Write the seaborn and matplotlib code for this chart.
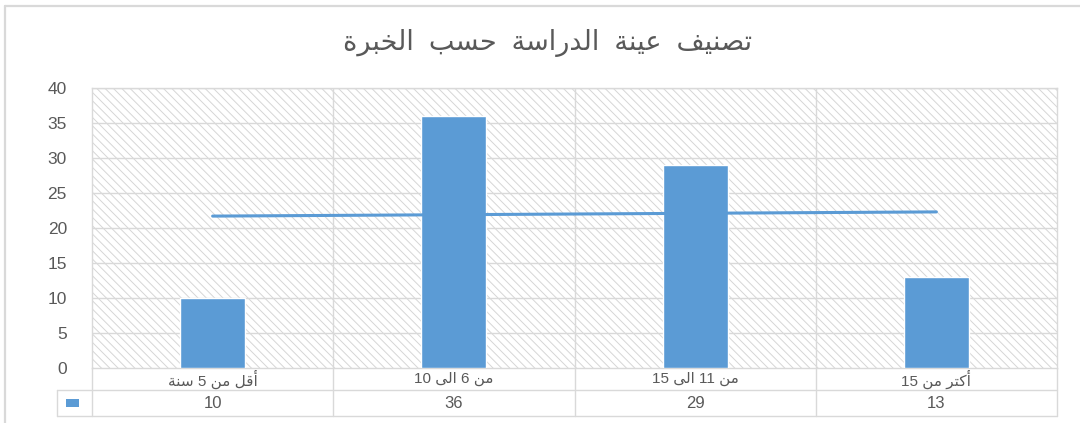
import numpy as np
import pandas as pd
import matplotlib
matplotlib.use("Agg")
import matplotlib.pyplot as plt
from matplotlib.patches import Rectangle
from matplotlib.lines import Line2D
import matplotlib.transforms as mtransforms
import seaborn as sns

# ---------------- data ----------------
title = "تصنيف عينة الدراسة حسب الخبرة"
categories = ["أقل من 5 سنة", "من 6 الى 10", "من 11 الى 15", "أكتر من 15"]
values = [10, 36, 29, 13]
y_ticks = [0, 5, 10, 15, 20, 25, 30, 35, 40]

# ------------- minimal Arabic shaping (presentation forms) + RTL order -------------
FORMS = {
    'ا': ('\uFE8D', '\uFE8E', None, None),
    'أ': ('\uFE83', '\uFE84', None, None),
    'ب': ('\uFE8F', '\uFE90', '\uFE91', '\uFE92'),
    'ة': ('\uFE93', '\uFE94', None, None),
    'ت': ('\uFE95', '\uFE96', '\uFE97', '\uFE98'),
    'ح': ('\uFEA1', '\uFEA2', '\uFEA3', '\uFEA4'),
    'خ': ('\uFEA5', '\uFEA6', '\uFEA7', '\uFEA8'),
    'د': ('\uFEA9', '\uFEAA', None, None),
    'ر': ('\uFEAD', '\uFEAE', None, None),
    'س': ('\uFEB1', '\uFEB2', '\uFEB3', '\uFEB4'),
    'ص': ('\uFEB9', '\uFEBA', '\uFEBB', '\uFEBC'),
    'ع': ('\uFEC9', '\uFECA', '\uFECB', '\uFECC'),
    'ف': ('\uFED1', '\uFED2', '\uFED3', '\uFED4'),
    'ق': ('\uFED5', '\uFED6', '\uFED7', '\uFED8'),
    'ك': ('\uFED9', '\uFEDA', '\uFEDB', '\uFEDC'),
    'ل': ('\uFEDD', '\uFEDE', '\uFEDF', '\uFEE0'),
    'م': ('\uFEE1', '\uFEE2', '\uFEE3', '\uFEE4'),
    'ن': ('\uFEE5', '\uFEE6', '\uFEE7', '\uFEE8'),
    'ى': ('\uFEEF', '\uFEF0', None, None),
    'ي': ('\uFEF1', '\uFEF2', '\uFEF3', '\uFEF4'),
}
LAM_ALEF = {'ا': ('\uFEFB', '\uFEFC'), 'أ': ('\uFEF7', '\uFEF8')}


def _dual(c):
    return c in FORMS and FORMS[c][2] is not None


def shape_word(w):
    chars = list(w)
    n = len(chars)
    out = []
    i = 0
    while i < n:
        c = chars[i]
        if c not in FORMS:
            out.append(c)
            i += 1
            continue
        jp = i > 0 and _dual(chars[i - 1])
        if c == 'ل' and i + 1 < n and chars[i + 1] in LAM_ALEF:
            iso, fin = LAM_ALEF[chars[i + 1]]
            out.append(fin if jp else iso)
            i += 2
            continue
        jn = _dual(c) and i + 1 < n and chars[i + 1] in FORMS
        iso, fin, ini, med = FORMS[c]
        out.append(med if (jp and jn) else fin if jp else ini if jn else iso)
        i += 1
    return ''.join(reversed(out))


def visual(text, sep=' '):
    words = [shape_word(w) if any(ch in FORMS for ch in w) else w
             for w in text.split(' ')]
    return sep.join(reversed(words))


# ---------------- style ----------------
sns.set_theme(style="white")
plt.rcParams['font.family'] = ['Liberation Sans', 'DejaVu Sans']
plt.rcParams['hatch.linewidth'] = 0.7

BAR = '#5B9BD5'
GRID = '#d9d9d9'
TXT = '#595959'

fig = plt.figure(figsize=(10.8, 4.23), dpi=100)
fig.patch.set_facecolor('white')
W, H = 1080, 423
ax = fig.add_axes([92 / W, (H - 368) / H, (1057 - 92) / W, (368 - 88) / H])

# hatched plot background
ax.add_patch(Rectangle((0, 0), 1, 1, transform=ax.transAxes, facecolor='white',
                       edgecolor='#d6d6d6', hatch='\\\\\\\\', lw=0, zorder=0))

df = pd.DataFrame({'cat': categories, 'val': values})
sns.barplot(data=df, x='cat', y='val', color=BAR, width=0.27, saturation=1,
            ax=ax, zorder=3)

idx = np.arange(len(values))
coef = np.polyfit(idx, values, 1)
trend = np.polyval(coef, idx)
sns.lineplot(x=idx, y=trend, color=BAR, lw=2.2, ax=ax, zorder=4)

ax.set_xlim(-0.5, len(categories) - 0.5)
ax.set_ylim(0, 40)
ax.set_yticks(y_ticks)
ax.set_yticklabels([str(t) for t in y_ticks], color=TXT, fontsize=12.5)
ax.tick_params(axis='y', length=0, pad=18)
ax.set_xticks([])
ax.set_xlabel('')
ax.set_ylabel('')
for t in y_ticks[1:]:
    ax.axhline(t, color=GRID, lw=1, zorder=1)
for b in np.arange(0.5, len(categories) - 0.5, 1):
    ax.axvline(b, color=GRID, lw=1, zorder=1)
for s in ax.spines.values():
    s.set_color(GRID)
    s.set_linewidth(1)

# ---------------- data table ----------------
tr = mtransforms.blended_transform_factory(ax.transData, ax.transAxes)
px_y = 1.0 / (368 - 88)          # one pixel in axes-y units
r1 = -22 * px_y                   # bottom of category row
r2 = -48 * px_y                   # bottom of value row
px_x = 1.0 / ((1057 - 92) / 4)    # one pixel in data-x units
x_left_tab = -0.5 - 35 * px_x
x_right = len(categories) - 0.5


def hline(x0, x1, y):
    ax.add_line(Line2D([x0, x1], [y, y], transform=tr, color=GRID, lw=1, clip_on=False))


def vline(x, y0, y1):
    ax.add_line(Line2D([x, x], [y0, y1], transform=tr, color=GRID, lw=1, clip_on=False))


hline(x_left_tab, x_right, r1)
hline(x_left_tab, x_right, r2)
vline(x_left_tab, r1, r2)
for b in np.arange(-0.5, len(categories), 1):
    vline(b, 0, r2)

for i, (c, v) in enumerate(zip(categories, values)):
    ax.text(i, r1 / 2, visual(c), transform=tr, ha='center', va='center',
            fontsize=11, color=TXT)
    ax.text(i, (r1 + r2) / 2, str(v), transform=tr, ha='center', va='center',
            fontsize=12, color=TXT)

# legend key in table
ax.add_patch(Rectangle((x_left_tab + 9 * px_x, (r1 + r2) / 2 - 4 * px_y),
                       13 * px_x, 8 * px_y, transform=tr, facecolor=BAR,
                       edgecolor='none', clip_on=False))

# ---------------- title & frame ----------------
fig.text(548 / W, 1 - 43 / H, visual(title, sep='  '), ha='center', va='center',
         fontsize=19.5, color=TXT)
fig.add_artist(Line2D([5 / W, 1], [1 - 6 / H, 1 - 6 / H], transform=fig.transFigure,
                      color=GRID, lw=1.6))
fig.add_artist(Line2D([5 / W, 5 / W], [0, 1 - 6 / H], transform=fig.transFigure,
                      color=GRID, lw=1.6))

fig.savefig('out.png', dpi=100, facecolor='white')
